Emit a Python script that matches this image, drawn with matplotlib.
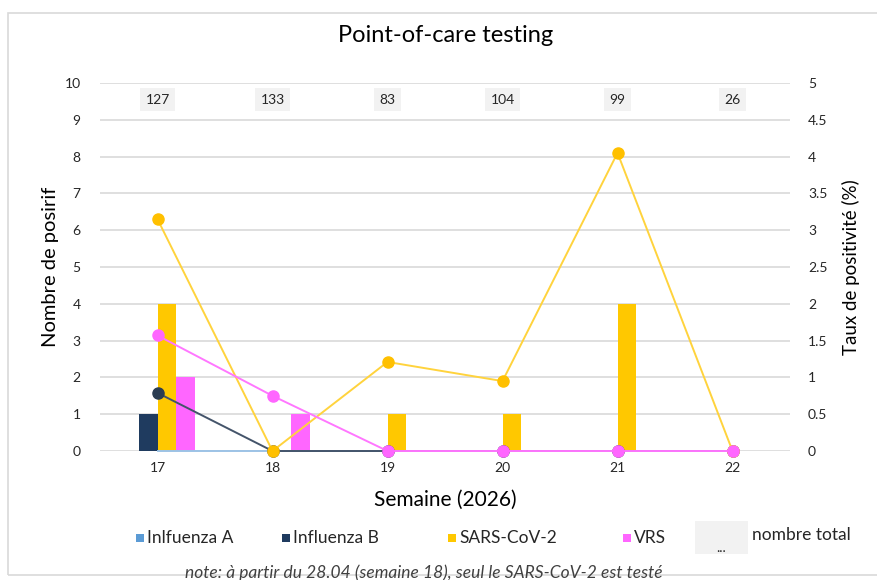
import numpy as np
import matplotlib
matplotlib.use("Agg")
import matplotlib.pyplot as plt
from matplotlib.patches import Rectangle

plt.rcParams["font.family"] = ["Lato", "DejaVu Sans"]

# ─────────────────────────────────────────────
# Data
# ─────────────────────────────────────────────
weeks      = ["17", "18", "19", "20", "21", "22"]
totals     = [127, 133, 83, 104, 99, 26]

count_infa = [0, 0, 0, 0, 0, 0]
count_infb = [1, 0, 0, 0, 0, 0]
count_sars = [4, 0, 1, 1, 4, 0]
count_vrs  = [2, 1, 0, 0, 0, 0]

rate_infa  = [0, 0, 0, 0, 0, 0]
rate_infb  = [0.79, 0, 0, 0, 0, 0]
rate_sars  = [3.15, 0, 1.21, 0.95, 4.05, 0]
rate_vrs   = [1.57, 0.75, 0, 0, 0, 0]

labels     = ["Inlfuenza A", "Influenza B", "SARS-CoV-2", "VRS"]
bar_cols   = ["#5b9bd5", "#1f3b5f", "#ffc800", "#ff66ff"]
line_cols  = ["#9dc3e6", "#44546a", "#ffd33d", "#ff77ff"]
mark_cols  = [None, "#2b3d52", "#ffc000", "#ff66ff"]

# ─────────────────────────────────────────────
# Figure
# ─────────────────────────────────────────────
fig = plt.figure(figsize=(8.78, 5.80), dpi=100)
fig.patches.append(Rectangle((8 / 878, 1 - 575 / 580), 1, 562 / 580,
                             transform=fig.transFigure, fill=False,
                             edgecolor="#d9d9d9", linewidth=1.2))

ax = fig.add_axes([0.1139, 0.2224, 0.7859, 0.6345])
ax2 = ax.twinx()

x = np.arange(len(weeks))
w = 0.165
counts = [count_infa, count_infb, count_sars, count_vrs]
for i, (vals, col) in enumerate(zip(counts, bar_cols)):
    ax.bar(x + (i - 1.5) * w, vals, width=w, color=col, zorder=2)

rates = [rate_infa, rate_infb, rate_sars, rate_vrs]
for i, (vals, lc, mc) in enumerate(zip(rates, line_cols, mark_cols)):
    if mc is None:
        ax2.plot(x, vals, color=lc, linewidth=1.4, zorder=3 + i, clip_on=False)
    else:
        ax2.plot(x, vals, color=lc, linewidth=1.4, marker="o", markersize=8,
                 markerfacecolor=mc, markeredgecolor=mc, zorder=3 + i,
                 clip_on=False)

# totals row
for xi, t in zip(x, totals):
    ax.text(xi, 9.55, str(t), ha="center", va="center", fontsize=10,
            color="#262626",
            bbox=dict(boxstyle="square,pad=0.4", facecolor="#f2f2f2",
                      edgecolor="none"))

ax.set_xlim(-0.5, len(weeks) - 0.5)
ax.set_ylim(0, 10)
ax.set_yticks(range(0, 11))
ax2.set_ylim(0, 5)
ax2.set_yticks(np.arange(0, 5.01, 0.5))
ax2.set_yticklabels(["0", "0.5", "1", "1.5", "2", "2.5", "3", "3.5", "4", "4.5", "5"])
ax.set_xticks(x)
ax.set_xticklabels(weeks)

for a in (ax, ax2):
    for s in a.spines.values():
        s.set_visible(False)
    a.tick_params(length=0, labelsize=10, colors="#262626")
ax.tick_params(axis="y", pad=14)
ax2.tick_params(axis="y", pad=13)
ax.tick_params(axis="x", pad=8)
ax.grid(axis="y", color="#d9d9d9", linewidth=1.2, zorder=0)
ax.set_axisbelow(True)
ax2.set_zorder(ax.get_zorder() + 1)
ax2.patch.set_visible(False)

ax.set_ylabel("Nombre de posirif", fontsize=14.5, color="#000000", labelpad=4)
ax2.set_ylabel("Taux de positivité (%)", fontsize=13.5, color="#000000", labelpad=10)
ax.set_xlabel("Semaine (2026)", fontsize=15, color="#000000", labelpad=11)

fig.text(446 / 878, 1 - 35 / 580, "Point-of-care testing", ha="center",
         va="center", fontsize=17, color="#000000")

# legend (drawn by hand)
leg_y = 1 - 538 / 580
items = [(136, labels[0], bar_cols[0]), (282, labels[1], bar_cols[1]),
         (448, labels[2], bar_cols[2]), (623, labels[3], bar_cols[3])]
for px, lab, col in items:
    fig.patches.append(Rectangle((px / 878, leg_y - 4 / 580), 8 / 878, 8 / 580,
                                 transform=fig.transFigure, facecolor=col,
                                 edgecolor="none"))
    fig.text((px + 11) / 878, leg_y, lab, ha="left", va="center",
             fontsize=12.5, color="#262626")
fig.patches.append(Rectangle((695 / 878, 1 - 554 / 580), 53 / 878, 33 / 580,
                             transform=fig.transFigure, facecolor="#f2f2f2",
                             edgecolor="none"))
fig.text(721 / 878, 1 - 548 / 580, "...", ha="center", va="center",
         fontsize=10, color="#262626")
fig.text(752 / 878, 1 - 535 / 580, "nombre total", ha="left", va="center",
         fontsize=12.5, color="#262626")

fig.text(424 / 878, 1 - 573 / 580,
         "note: à partir du 28.04 (semaine 18), seul le SARS-CoV-2 est testé",
         ha="center", va="center", fontsize=12.5, style="italic", color="#404040")

fig.savefig("out.png", dpi=100)
